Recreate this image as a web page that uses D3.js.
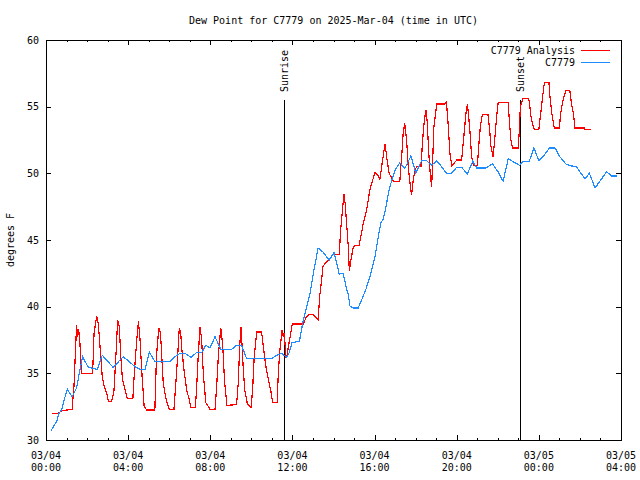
<!DOCTYPE html>
<html>
<head>
<meta charset="utf-8">
<script src="https://cdn.jsdelivr.net/npm/d3@7"></script>
<style>
  html, body { margin: 0; padding: 0; background: #fff; }
  svg { display: block; }
  text { font-family: "DejaVu Sans Mono", monospace; font-size: 10px; fill: #000; }
</style>
</head>
<body>
<svg id="chart" width="640" height="480"></svg>
<script>
// ---- data (hours after 2025-03-04 00:00 UTC, dew point °F) ----
const titleText = "Dew Point for C7779 on 2025-Mar-04 (time in UTC)";
const yLabelText = "degrees F";
const seriesNames = ["C7779 Analysis", "C7779"];
const yTicks = [30, 35, 40, 45, 50, 55, 60];

const analysisHours = [0.27,0.60,0.76,1.27,1.36,1.49,1.54,1.59,1.65,1.73,2.27,2.34,2.47,2.55,2.63,2.74,2.84,2.96,3.04,3.20,3.31,3.41,3.49,3.57,3.64,3.72,3.85,3.96,4.23,4.30,4.42,4.50,4.58,4.67,4.78,4.91,5.30,5.38,5.46,5.51,5.58,5.71,5.82,5.90,6.00,6.23,6.31,6.41,6.49,6.56,6.62,6.72,6.85,6.98,7.05,7.27,7.33,7.41,7.50,7.58,7.66,7.78,7.99,8.23,8.32,8.39,8.51,8.61,8.69,8.81,9.28,9.36,9.44,9.50,9.60,9.68,9.80,9.98,10.06,10.14,10.26,10.50,10.58,10.71,10.83,10.94,11.04,11.26,11.31,11.39,11.50,11.55,11.59,11.64,11.68,11.75,11.80,11.91,11.99,12.53,12.67,12.78,13.02,13.25,13.33,13.42,13.49,13.74,13.98,14.28,14.35,14.45,14.51,14.57,14.64,14.72,14.77,14.85,14.94,15.01,15.25,15.45,15.61,15.77,15.91,16.02,16.18,16.26,16.39,16.51,16.61,16.71,16.92,17.23,17.33,17.39,17.47,17.56,17.64,17.75,17.80,17.88,17.96,18.05,18.26,18.34,18.42,18.50,18.56,18.64,18.73,18.78,18.83,18.89,19.03,19.42,19.50,19.59,19.67,19.76,20.00,20.24,20.36,20.45,20.52,20.57,20.65,20.73,20.81,21.01,21.07,21.15,21.25,21.52,21.59,21.67,21.77,21.85,21.94,22.02,22.51,22.56,22.64,22.72,23.00,23.04,23.10,23.23,23.51,23.56,23.64,23.77,24.00,24.09,24.17,24.27,24.49,24.54,24.63,24.75,25.00,25.06,25.19,25.32,25.51,25.59,25.68,25.76,26.20,26.22,26.53];
const analysisValues = [32.0,32.0,32.2,32.3,34.0,38.6,37.7,38.3,37.3,35.0,35.0,38.0,39.3,38.7,37.0,34.75,34.0,33.5,32.9,32.9,33.7,36.5,39.0,38.5,36.3,34.6,33.8,33.1,33.1,35.0,37.5,38.9,37.5,35.0,32.5,32.25,32.25,36.3,37.8,38.4,37.9,34.25,33.25,32.8,32.3,32.3,34.0,36.25,38.4,38.0,36.75,35.25,33.75,33.0,32.45,32.45,33.75,36.25,38.5,37.5,35.0,32.8,32.3,32.3,34.25,36.25,38.4,37.0,34.5,32.6,32.65,34.25,37.25,38.5,35.5,33.75,32.75,32.4,33.75,36.25,38.1,38.1,37.0,35.5,34.5,33.75,32.8,32.8,35.0,36.75,38.25,37.75,38.0,37.25,36.25,36.4,37.0,37.9,38.7,38.7,39.2,39.4,39.4,39.05,40.8,42.0,43.05,43.5,43.9,43.9,45.8,47.5,48.45,47.7,46.2,44.5,42.7,43.5,44.3,44.55,44.6,46.25,47.25,48.75,49.5,50.05,49.8,49.55,51.0,52.2,51.0,50.0,49.4,49.4,51.5,53.0,53.75,52.5,50.5,48.9,48.35,49.5,50.2,50.5,50.5,52.5,53.9,54.75,53.9,51.5,49.6,49.0,51.0,53.5,55.2,55.2,55.35,53.5,51.5,50.55,51.0,51.0,53.0,54.5,55.2,54.5,53.0,51.2,50.6,50.6,52.0,53.5,54.4,54.4,53.5,52.0,51.25,52.5,54.2,55.3,55.3,54.0,52.5,51.9,51.9,53.0,55.0,55.6,55.6,55.0,54.0,53.3,53.3,54.5,55.6,56.8,56.8,55.8,54.5,53.4,53.4,54.5,55.6,56.2,56.2,55.2,54.5,53.4,53.4,53.3,53.3];

const stationHours = [0.24,0.36,0.52,0.63,0.76,0.88,1.04,1.27,1.49,1.65,1.78,2.06,2.50,2.74,3.27,3.76,4.34,4.58,4.83,5.03,5.30,6.04,6.28,6.53,6.77,7.05,7.33,7.58,7.78,7.99,8.23,8.51,9.04,9.28,9.52,9.77,10.99,11.23,11.47,11.72,11.83,11.98,12.34,12.53,12.70,12.86,13.02,13.25,13.49,13.79,14.03,14.15,14.28,14.47,14.61,14.72,14.80,14.96,15.20,15.37,15.60,15.77,16.02,16.18,16.30,16.43,16.56,16.67,16.84,17.00,17.23,17.47,17.77,18.01,18.29,18.53,18.78,19.03,19.26,19.51,19.75,20.00,20.24,20.52,20.78,20.98,21.41,21.74,22.02,22.26,22.51,22.83,23.07,23.23,23.53,23.76,24.00,24.21,24.51,24.79,25.02,25.32,25.60,25.84,26.00,26.25,26.46,26.74,27.01,27.30,27.55,27.79];
const stationValues = [30.7,31.0,31.4,32.0,32.25,33.0,33.8,33.25,33.9,35.25,36.25,35.45,35.3,36.35,35.45,36.25,35.5,35.3,35.3,36.6,35.9,35.9,36.25,36.5,36.5,36.2,36.55,36.55,37.1,36.9,37.75,36.8,36.8,37.1,37.1,36.1,36.1,36.35,36.5,36.2,36.5,37.3,37.4,39.0,40.0,41.0,42.5,44.4,44.1,43.5,44.05,43.3,42.45,42.5,41.5,40.9,40.05,39.9,39.9,40.5,41.4,42.25,43.75,45.25,46.25,46.6,47.5,48.5,49.5,50.25,50.8,50.35,51.3,50.0,50.95,50.95,50.6,50.95,50.5,50.0,50.0,50.45,50.45,49.95,50.9,50.4,50.4,50.7,50.1,49.4,51.1,50.8,50.6,50.9,50.9,51.9,50.95,51.25,51.9,51.9,51.25,50.7,50.55,50.5,50.1,49.6,50.0,48.9,49.5,50.1,49.8,49.8];

const sunEvents = ["Sunrise", "Sunset"];
const sunHours = [11.6, 23.1];
const sunLineTop = 0.85;   // fraction of plot height
const sunLabelPos = 0.87;

// ---- chart ----
const startMs = Date.UTC(2025, 2, 4, 0, 0);
const toDate = h => new Date(startMs + h * 3600e3);
const colors = ["#ff0000", "#1e8cff"];

const svg = d3.select("#chart");
const L = 46, R = 621, T = 40, B = 440;

const x = d3.scaleUtc().domain([toDate(0), toDate(28)]).range([L, R]);
const y = d3.scaleLinear().domain([30, 60]).range([B, T]);

// title
svg.append("text").attr("x", (L + R) / 2).attr("y", 24)
  .attr("text-anchor", "middle").text(titleText);

// y label
svg.append("text").attr("transform", "translate(10,240) rotate(-90)")
  .attr("text-anchor", "middle").attr("dy", "0.35em").text(yLabelText);

const crisp = g => g.attr("shape-rendering", "crispEdges");

// axes ticks
const majorX = d3.utcHour.every(4);
const minorX = d3.utcHour.every(1);
svg.append("g").attr("transform", `translate(0,${B})`).call(crisp)
  .call(d3.axisBottom(x).ticks(minorX).tickSize(-2).tickFormat(""))
  .call(g => g.select(".domain").remove());
svg.append("g").attr("transform", `translate(0,${B})`).call(crisp)
  .call(d3.axisBottom(x).ticks(majorX).tickSize(-5).tickFormat(""))
  .call(g => g.select(".domain").remove());
svg.append("g").attr("transform", `translate(0,${T})`).call(crisp)
  .call(d3.axisTop(x).ticks(minorX).tickSize(-2).tickFormat(""))
  .call(g => g.select(".domain").remove());
svg.append("g").attr("transform", `translate(0,${T})`).call(crisp)
  .call(d3.axisTop(x).ticks(majorX).tickSize(-5).tickFormat(""))
  .call(g => g.select(".domain").remove());

const yAxisG = svg.append("g").attr("transform", `translate(${L},0)`).call(crisp)
  .call(d3.axisLeft(y).tickValues(yTicks).tickSize(-5).tickPadding(7).tickFormat(d3.format("d")))
  .call(g => g.select(".domain").remove());
yAxisG.selectAll("text").attr("font-family", null).attr("font-size", null);
svg.append("g").attr("transform", `translate(${R},0)`).call(crisp)
  .call(d3.axisRight(y).tickValues(yTicks).tickSize(-5).tickFormat(""))
  .call(g => g.select(".domain").remove());

// x tick labels (two lines)
const fmtDate = d3.utcFormat("%m/%d"), fmtTime = d3.utcFormat("%H:%M");
const xl = svg.append("g");
x.ticks(majorX).forEach(d => {
  const t = xl.append("text").attr("x", x(d)).attr("text-anchor", "middle");
  t.append("tspan").attr("x", x(d)).attr("y", 459).text(fmtDate(d));
  t.append("tspan").attr("x", x(d)).attr("y", 471).text(fmtTime(d));
});

// frame
svg.append("rect").attr("x", L + 0.5).attr("y", T + 0.5)
  .attr("width", R - L).attr("height", B - T)
  .attr("fill", "none").attr("stroke", "#000").attr("shape-rendering", "crispEdges");

// sun lines
sunHours.forEach((h, i) => {
  const xp = Math.round(x(toDate(h))) + 0.5;
  svg.append("line").attr("x1", xp).attr("x2", xp)
    .attr("y1", B).attr("y2", B - sunLineTop * (B - T))
    .attr("stroke", "#000").attr("shape-rendering", "crispEdges");
  svg.append("text")
    .attr("transform", `translate(${xp},${B - sunLabelPos * (B - T)}) rotate(-90)`)
    .attr("dy", "0.35em").attr("text-anchor", "start").text(sunEvents[i]);
});

// series
const line = d3.line().x(d => x(d[0])).y(d => y(d[1]));
const analysis = analysisHours.map((h, i) => [toDate(h), analysisValues[i]]);
const station = stationHours.map((h, i) => [toDate(h), stationValues[i]]);
[analysis, station].forEach((data, i) => {
  svg.append("path").datum(data).attr("d", line)
    .attr("fill", "none").attr("stroke", colors[i]).attr("stroke-width", 1.2)
    .attr("shape-rendering", "crispEdges");
});

// legend
seriesNames.forEach((name, i) => {
  const yy = 50 + i * 12;
  svg.append("text").attr("x", 575).attr("y", yy).attr("dy", "0.35em")
    .attr("text-anchor", "end").text(name);
  svg.append("line").attr("x1", 581).attr("x2", 610).attr("y1", yy + 0.5).attr("y2", yy + 0.5)
    .attr("stroke", colors[i]).attr("shape-rendering", "crispEdges");
});
</script>
</body>
</html>
